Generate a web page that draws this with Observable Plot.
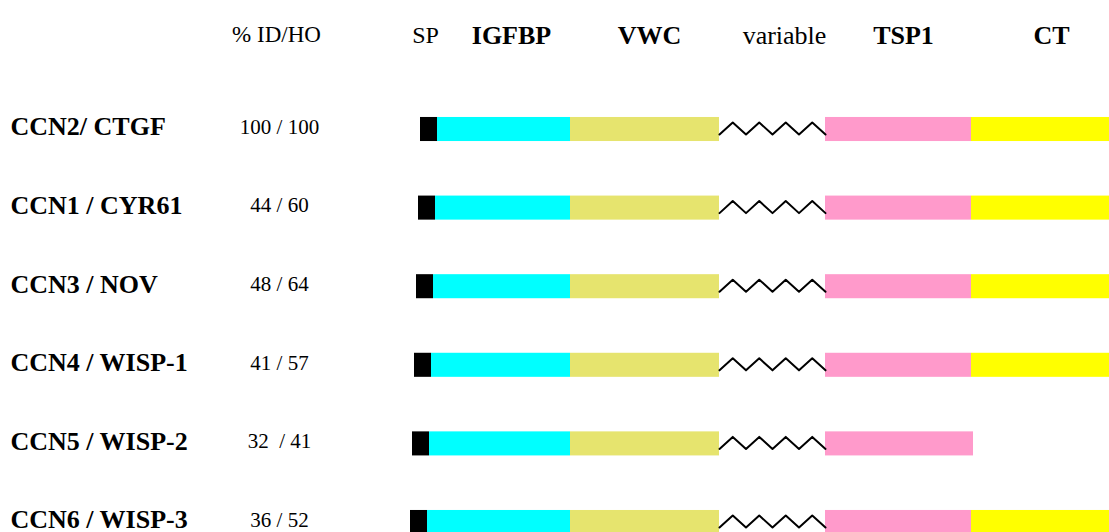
<!DOCTYPE html>
<html><head><meta charset="utf-8">
<script src="https://cdn.jsdelivr.net/npm/d3@7"></script>
<script src="https://cdn.jsdelivr.net/npm/@observablehq/plot@0.6"></script>
<style>body{margin:0;background:#fff}</style>
</head><body><div id="chart"></div>
<script>
// ---- data ----
const names = ["CCN2/ CTGF", "CCN1 / CYR61", "CCN3 / NOV", "CCN4 / WISP-1", "CCN5 / WISP-2", "CCN6 / WISP-3"];
const identity = ["100 / 100", "44 / 60", "48 / 64", "41 / 57", "32  / 41", "36 / 52"];
const headers = ["% ID/HO", "SP", "IGFBP", "VWC", "variable", "TSP1", "CT"];
const spStart = [420, 418, 416, 414, 412, 410];
const spEnd = [437, 435, 433, 431, 429, 427];
const igfbpEnd = [570, 570, 570, 570, 570, 570];
const vwcEnd = [719, 719, 719, 719, 719, 719];
const varEnd = [825, 825, 825, 825, 825, 825];
const tspEnd = [971, 971, 971, 971, 973, 971];
const ctEnd = [1109, 1109, 1109, 1109, null, 1109];

// ---- layout / style constants ----
const colors = {SP: "#000000", IGFBP: "#00ffff", VWC: "#e6e46e", TSP1: "#ff9acb", CT: "#ffff00"};
const headerAt = {"% ID/HO": 276, "SP": 425, "IGFBP": 511, "VWC": 649, "variable": 784, "TSP1": 903, "CT": 1051};
const headerSize = {"% ID/HO": 23, "SP": 24, "variable": 26};
const boldHeaders = new Set(["IGFBP", "VWC", "TSP1", "CT"]);
const labelX = 10, idX = 279;
const H = 0.153;       // half bar height in row units
const zigUp = -0.089, zigDown = 0.064, zigPeaks = 4;

// segments table
const segs = [];
names.forEach((n, i) => {
  segs.push({row: i, x1: spStart[i], x2: spEnd[i], fill: colors.SP});
  segs.push({row: i, x1: spEnd[i], x2: igfbpEnd[i], fill: colors.IGFBP});
  segs.push({row: i, x1: igfbpEnd[i], x2: vwcEnd[i], fill: colors.VWC});
  segs.push({row: i, x1: varEnd[i], x2: tspEnd[i], fill: colors.TSP1});
  if (ctEnd[i] != null) segs.push({row: i, x1: tspEnd[i], x2: ctEnd[i], fill: colors.CT});
});
// zigzag glyph for the variable hinge region
const zig = [];
names.forEach((n, i) => {
  const a = vwcEnd[i], b = varEnd[i], nSteps = zigPeaks * 2;
  for (let k = 0; k <= nSteps; k++) {
    zig.push({row: i, x: a + (b - a) * k / nSteps, y: i + (k % 2 ? zigUp : zigDown)});
  }
});

const regular = headers.filter(h => !boldHeaders.has(h));
const chart = Plot.plot({
  width: 1109, height: 532,
  marginLeft: 0, marginRight: 0, marginTop: 0, marginBottom: 0,
  x: {domain: [0, 1109], range: [0, 1109], axis: null},
  y: {domain: [0, 5], range: [129, 522], axis: null},
  color: {type: "identity"},
  style: {fontFamily: "'Liberation Serif', 'Times New Roman', serif", background: "#fff", color: "#000"},
  marks: [
    Plot.rect(segs, {x1: "x1", x2: "x2", y1: d => d.row - H, y2: d => d.row + H, fill: "fill"}),
    Plot.line(zig, {x: "x", y: "y", z: "row", stroke: "#000", strokeWidth: 2, curve: "linear"}),
    Plot.text(names, {x: () => labelX, y: (d, i) => i, dy: -2.5, text: d => d, textAnchor: "start", fontWeight: "bold", fontSize: 26, fill: "#000"}),
    Plot.text(identity, {x: () => idX, y: (d, i) => i, dy: -2.5, text: d => d, fontSize: 21, fill: "#000"}),
    ...regular.map(h => Plot.text([h], {x: d => headerAt[d], frameAnchor: "top", dy: 25, text: d => d, fontSize: headerSize[h], fill: "#000"})),
    Plot.text(headers.filter(h => boldHeaders.has(h)), {x: d => headerAt[d], frameAnchor: "top", dy: 25, text: d => d, fontSize: 26, fontWeight: "bold", fill: "#000"})
  ]
});
document.getElementById("chart").appendChild(chart);
</script>
</body></html>
